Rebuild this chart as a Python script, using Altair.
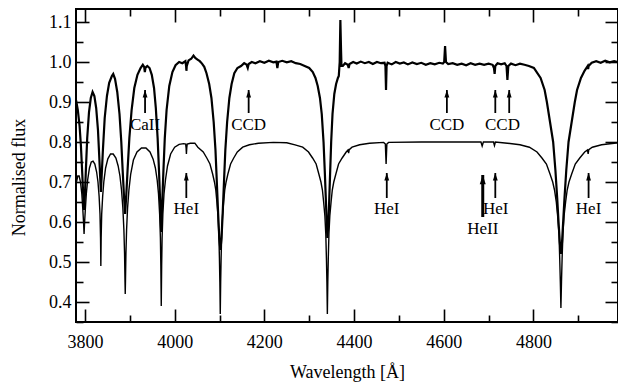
import altair as alt
import pandas as pd

obs_wl = [3780, 3784, 3788, 3791, 3794, 3796, 3798, 3800, 3802, 3805, 3809, 3813, 3817, 3821, 3825, 3829,
          3832, 3834, 3835.5, 3837, 3840, 3844, 3849, 3854, 3860, 3863, 3867, 3872, 3877, 3881, 3884, 3887,
          3889.5, 3892, 3895, 3899, 3904, 3910, 3917, 3924, 3929, 3932, 3933.5, 3935, 3939, 3944, 3949, 3954,
          3958, 3962, 3965, 3968, 3970, 3972, 3975, 3978, 3982, 3988, 3995, 4002, 4010, 4017, 4024, 4025.5,
          4026.2, 4027, 4031, 4037, 4042, 4046, 4051, 4056, 4061, 4066, 4071, 4077, 4082, 4087, 4091, 4094,
          4097, 4099.5, 4102, 4104.5, 4107, 4110, 4113, 4117, 4122, 4127, 4133, 4140, 4148, 4155, 4160, 4163,
          4165, 4172, 4180, 4190, 4200, 4210, 4220, 4227, 4229, 4231, 4240, 4250, 4260, 4270, 4280, 4290,
          4300, 4308, 4314, 4319, 4324, 4328, 4332, 4335, 4338, 4340.5, 4343, 4346, 4349, 4352, 4356, 4360,
          4364, 4366, 4368, 4369.5, 4371, 4372, 4375, 4380, 4386, 4388, 4390, 4398, 4406, 4415, 4424, 4433,
          4442, 4451, 4460, 4468, 4470, 4471.3, 4472.6, 4475, 4484, 4493, 4502, 4511, 4520, 4530, 4540, 4550,
          4560, 4570, 4580, 4590, 4598, 4601, 4603, 4605, 4610, 4620, 4630, 4640, 4650, 4660, 4670, 4680,
          4690, 4700, 4709, 4712, 4713.5, 4715, 4720, 4728, 4736, 4740, 4742, 4744, 4750, 4760, 4770, 4780,
          4790, 4801, 4816, 4825, 4830, 4837, 4844, 4849, 4853, 4856, 4858.8, 4861.3, 4863.8, 4866.3, 4869.3,
          4873.3, 4878.3, 4885.3, 4892.3, 4897.3, 4906, 4914, 4921, 4922, 4923, 4930, 4940, 4950, 4960, 4970,
          4980, 4988]
obs_flux = [0.905, 0.88, 0.84, 0.79, 0.72, 0.67, 0.63, 0.67, 0.73, 0.81, 0.875, 0.91, 0.925, 0.915, 0.885, 0.83,
            0.76, 0.71, 0.675, 0.71, 0.78, 0.86, 0.915, 0.948, 0.965, 0.97, 0.958, 0.925, 0.87, 0.8, 0.73, 0.665,
            0.62, 0.665, 0.73, 0.81, 0.88, 0.935, 0.968, 0.985, 0.993, 0.988, 0.975, 0.986, 0.99, 0.985, 0.968, 0.935,
            0.885, 0.81, 0.73, 0.64, 0.575, 0.64, 0.73, 0.81, 0.88, 0.94, 0.975, 0.992, 1.0, 0.997, 1.002, 0.99,
            0.978, 0.99, 1.004, 1.008, 1.016, 1.01, 1.006, 1.002, 0.996, 0.988, 0.972, 0.945, 0.91, 0.85, 0.78, 0.70,
            0.62, 0.56, 0.53, 0.56, 0.62, 0.70, 0.78, 0.85, 0.91, 0.945, 0.972, 0.985, 0.99, 0.997, 0.994, 0.985,
            0.995, 1.0, 0.997, 1.002, 0.998, 1.003, 0.999, 1.001, 0.985, 1.0, 1.003, 0.999, 1.002, 0.997, 0.995, 0.99,
            0.985, 0.975, 0.96, 0.94, 0.91, 0.87, 0.8, 0.72, 0.63, 0.56, 0.6, 0.7, 0.8, 0.87, 0.92, 0.945,
            0.96, 0.965, 1.0, 1.105, 1.03, 0.99, 0.99, 0.997, 0.993, 0.985, 0.995, 1.0, 0.996, 1.001, 0.997, 1.0,
            0.995, 1.0, 0.997, 0.998, 0.99, 0.93, 0.99, 0.998, 0.994, 1.0, 0.996, 0.999, 0.994, 0.999, 0.995, 0.998,
            0.993, 0.997, 0.994, 0.998, 0.996, 1.0, 1.04, 1.0, 0.995, 0.997, 0.993, 0.996, 0.992, 0.997, 0.993, 0.996,
            0.993, 0.996, 0.993, 0.985, 0.97, 0.99, 0.997, 0.994, 0.997, 0.99, 0.955, 0.99, 0.996, 0.992, 0.996, 0.993,
            0.99, 0.985, 0.96, 0.93, 0.9, 0.85, 0.8, 0.73, 0.66, 0.6, 0.55, 0.52, 0.55, 0.6, 0.66,
            0.73, 0.8, 0.85, 0.9, 0.93, 0.96, 0.978, 0.99, 0.982, 0.99, 0.998, 1.002, 0.998, 1.003, 0.999,
            1.002, 1.0]

# Model spectrum (lower trace)
mod_wl = [3780, 3784, 3787, 3790, 3793, 3795, 3796.8, 3798, 3799.2, 3801, 3803, 3806, 3810, 3814, 3818, 3822,
          3826, 3829, 3831.5, 3833.5, 3834.7, 3835.4, 3836.1, 3837.3, 3839.5, 3842, 3846, 3851, 3857, 3863, 3869,
          3874, 3878, 3881.5, 3884.5, 3886.8, 3888.3, 3889.3, 3889.8, 3890.3, 3891.3, 3892.8, 3895, 3898, 3902,
          3908, 3916, 3926, 3936, 3945, 3952, 3957, 3961, 3964, 3966.5, 3968.2, 3969.2, 3970.1, 3971, 3972,
          3973.7, 3976.2, 3979.5, 3984, 3991, 4000, 4010, 4020, 4024.5, 4025.5, 4026.2, 4027, 4028, 4035, 4045,
          4051.7, 4063.7, 4071.7, 4078.7, 4084.7, 4088.7, 4091.7, 4094.2, 4096.7, 4098.5, 4099.8, 4100.8, 4101.7,
          4102.6, 4103.6, 4104.9, 4106.7, 4109.2, 4111.7, 4114.7, 4118.7, 4124.7, 4131.7, 4139.7, 4151.7, 4166.7,
          4186.7, 4220, 4250, 4268.5, 4285.5, 4298.5, 4307.5, 4315.5, 4321.5, 4326.2, 4329.5, 4332.2, 4335, 4337,
          4338.4, 4339.5, 4340.5, 4341.5, 4342.6, 4344, 4346, 4348.8, 4351.5, 4354.8, 4359.5, 4365.5, 4373.5,
          4382.5, 4386.5, 4387.9, 4389.3, 4395.5, 4412.5, 4434.5, 4466, 4469.8, 4471.5, 4473.2, 4477, 4550, 4683,
          4685.7, 4688.4, 4711, 4713.1, 4715.2, 4742, 4770, 4791, 4808, 4819, 4829, 4837, 4843, 4847, 4851, 4854,
          4857, 4858.6, 4860, 4861.3, 4862.6, 4864, 4865.8, 4868.3, 4871.8, 4875.3, 4879.3, 4885.3, 4893.3,
          4903.3, 4914.3, 4920.5, 4922, 4923.5, 4931.3, 4952, 4980, 4988.6]
mod_flux = [0.695, 0.715, 0.715, 0.70, 0.67, 0.635, 0.6, 0.57, 0.6, 0.635, 0.67, 0.705, 0.735, 0.75, 0.752, 0.745,
            0.725, 0.7, 0.665, 0.62, 0.56, 0.49, 0.56, 0.62, 0.665, 0.7, 0.735, 0.758, 0.77, 0.77, 0.76,
            0.74, 0.715, 0.68, 0.635, 0.58, 0.52, 0.45, 0.42, 0.45, 0.52, 0.58, 0.635, 0.68, 0.72,
            0.755, 0.775, 0.785, 0.785, 0.775, 0.757, 0.735, 0.705, 0.67, 0.62, 0.56, 0.49, 0.39, 0.49, 0.56,
            0.62, 0.67, 0.705, 0.74, 0.77, 0.787, 0.794, 0.796, 0.795, 0.785, 0.77, 0.785, 0.795, 0.797, 0.797,
            0.787, 0.775, 0.76, 0.745, 0.72, 0.70, 0.68, 0.65, 0.615, 0.57, 0.51, 0.45, 0.37,
            0.45, 0.51, 0.57, 0.615, 0.65, 0.68, 0.70, 0.72, 0.745, 0.76, 0.775, 0.787, 0.793,
            0.797, 0.799, 0.798, 0.793, 0.787, 0.775, 0.76, 0.745, 0.72, 0.70, 0.68, 0.65, 0.615, 0.57,
            0.51, 0.45, 0.37, 0.45, 0.51, 0.57, 0.615, 0.65, 0.68, 0.70, 0.72, 0.745, 0.76,
            0.775, 0.78, 0.772, 0.781, 0.787, 0.793, 0.797, 0.799, 0.795, 0.745, 0.795, 0.799, 0.8, 0.8,
            0.79, 0.8, 0.8, 0.791, 0.8, 0.797, 0.793, 0.787, 0.775, 0.76, 0.745, 0.72, 0.70, 0.68, 0.65, 0.615,
            0.57, 0.51, 0.45, 0.385, 0.45, 0.51, 0.57, 0.615, 0.65, 0.68, 0.70, 0.72, 0.745,
            0.76, 0.775, 0.78, 0.77, 0.781, 0.787, 0.793, 0.797, 0.798]

# Annotation arrows and labels
arrow_wl = [3934, 4165, 4607, 4715, 4746, 4026, 4473, 4687, 4715, 4923]
arrow_tip = [0.93, 0.93, 0.93, 0.93, 0.93, 0.7225, 0.7225, 0.7175, 0.7225, 0.7225]
arrow_base = [0.8725, 0.8725, 0.8725, 0.8725, 0.8725, 0.66, 0.66, 0.6125, 0.66, 0.66]
arrow_w = [1.8, 1.8, 1.8, 1.8, 1.8, 1.8, 1.8, 3.0, 1.8, 1.8]
arrow_head = [42, 42, 42, 42, 42, 42, 42, 64, 42, 42]

label_text = ["CaII", "CCD", "CCD", "CCD", "HeI", "HeI", "HeI", "HeI", "HeII"]
label_wl = [3934, 4165, 4607, 4731, 4026, 4473, 4716, 4923, 4687]
label_y = [0.8425, 0.8425, 0.8425, 0.8425, 0.6325, 0.6325, 0.6325, 0.6325, 0.5825]

x_major = [3800, 4000, 4200, 4400, 4600, 4800]
x_minor = [3900, 4100, 4300, 4500, 4700, 4900]
y_major = [0.4, 0.5, 0.6, 0.7, 0.8, 0.9, 1.0, 1.1]
y_minor = [0.35, 0.45, 0.55, 0.65, 0.75, 0.85, 0.95, 1.05]

FONT = "Liberation Serif"
XS = alt.Scale(domain=[3780, 4988.6], nice=False, zero=False)
YS = alt.Scale(domain=[0.35, 1.1325], nice=False, zero=False)


def ax(orient, values, size, labels=False, title=None, fmt=None, lp=4, tp=None, ty=None):
    kw = dict(orient=orient, values=values, tickSize=size, offset=-size, domain=False, grid=False,
              labels=labels, title=title, tickColor="black", tickWidth=1.6,
              labelFont=FONT, labelFontSize=18, labelColor="black", labelPadding=lp,
              titleFont=FONT, titleFontSize=18, titleColor="black", titleFontWeight="normal")
    if fmt:
        kw["format"] = fmt
    if tp is not None:
        kw["titlePadding"] = tp
    if ty is not None:
        kw["titleY"] = ty
    return alt.Axis(**kw)


obs = pd.DataFrame({"wl": obs_wl, "flux": obs_flux})
mod = pd.DataFrame({"wl": mod_wl, "flux": mod_flux})
arr = pd.DataFrame({"wl": arrow_wl, "tip": arrow_tip, "base": arrow_base, "w": arrow_w, "hs": arrow_head})
lab = pd.DataFrame({"wl": label_wl, "y": label_y, "t": label_text})

model_line = alt.Chart(mod).mark_line(color="black", strokeWidth=1.4).encode(
    x=alt.X("wl:Q", scale=XS, axis=ax("bottom", x_major, 13, True, "Wavelength [Å]", "d", lp=11, tp=12)),
    y=alt.Y("flux:Q", scale=YS, axis=ax("left", y_major, 13, True, "Normalised flux", ".1f", lp=5, tp=20, ty=168)),
)
obs_line = alt.Chart(obs).mark_line(color="black", strokeWidth=2.2).encode(
    x=alt.X("wl:Q", scale=XS, axis=ax("bottom", x_minor, 7)),
    y=alt.Y("flux:Q", scale=YS, axis=ax("left", y_minor, 7)),
)
shafts = alt.Chart(arr).mark_rule(color="black").encode(
    x=alt.X("wl:Q", scale=XS, axis=ax("top", x_major, 13)),
    y=alt.Y("base:Q", scale=YS, axis=ax("right", y_major, 13)),
    y2="tip:Q",
    strokeWidth=alt.StrokeWidth("w:Q", scale=None),
)
heads = alt.Chart(arr).mark_point(shape="M0,0L0.75,2.3L-0.75,2.3Z", filled=True, color="black", opacity=1).encode(
    x=alt.X("wl:Q", scale=XS, axis=ax("top", x_minor, 7)),
    y=alt.Y("tip:Q", scale=YS, axis=ax("right", y_minor, 7)),
    size=alt.Size("hs:Q", scale=None),
)
labels = alt.Chart(lab).mark_text(font=FONT, fontSize=17, color="black").encode(
    x=alt.X("wl:Q", scale=XS, axis=None),
    y=alt.Y("y:Q", scale=YS, axis=None),
    text="t:N",
)

chart = alt.layer(model_line, obs_line, shafts, heads, labels).resolve_axis(
    x="independent", y="independent"
).properties(
    width=542, height=313,
    padding={"left": 68, "top": 1, "right": 0, "bottom": 62},
    autosize=alt.AutoSizeParams(type="none"),
).configure_view(stroke="black", strokeWidth=2).configure_axis(
    labelFont=FONT, titleFont=FONT
).configure_text(font=FONT)

chart.save("out.html", embed_options={"renderer": "svg", "actions": False})
